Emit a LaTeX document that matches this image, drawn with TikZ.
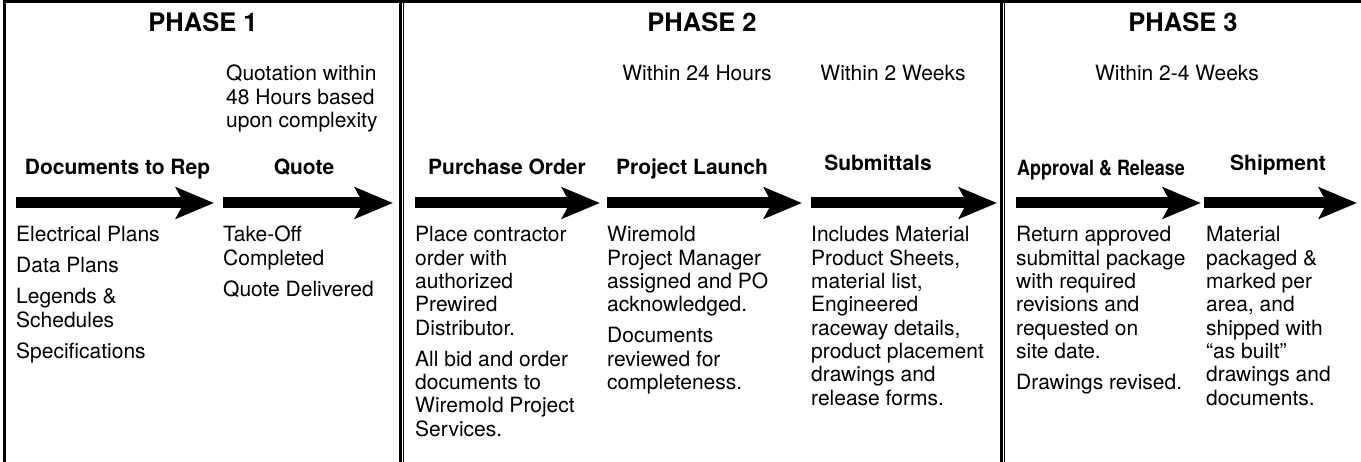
\documentclass[tikz,border=0pt]{standalone}
\usepackage{graphicx}
\usepackage{fontspec}
\setmainfont{TeX Gyre Heros}
\usetikzlibrary{arrows.meta}
\tikzset{
  body/.style={anchor=base west, inner sep=0pt, font=\fontsize{21}{23.3}\selectfont},
  timing/.style={anchor=base, inner sep=0pt, font=\fontsize{21}{23.3}\selectfont},
  steplabel/.style={anchor=base, inner sep=0pt, font=\bfseries\fontsize{21}{23.3}\selectfont},
  phasetitle/.style={anchor=base, inner sep=0pt, font=\bfseries\fontsize{25.5}{28}\selectfont},
  fatarrow/.style={line width=11pt, -{Stealth[length=38pt,width=31pt,inset=8pt]}},
  frameline/.style={line width=3pt},
  divthick/.style={line width=3.2pt},
  divthin/.style={line width=1.1pt},
}
\newcommand{\ml}[1]{\begin{tabular}[t]{@{}l@{}}#1\end{tabular}}
\begin{document}
\begin{tikzpicture}[x=1pt,y=-1pt]
\useasboundingbox[fill=white] (0,0) rectangle (1361,462);
% frame
\draw[frameline] (4,462) -- (4,2) -- (1361,2);
\draw[divthick] (400.5,2) -- (400.5,462);
\draw[divthin] (403.8,2) -- (403.8,462);
\draw[divthick] (1001.5,2) -- (1001.5,462);
\draw[divthin] (1004.8,2) -- (1004.8,462);
% phase titles
\node[phasetitle] (p1) at (203,32) {PHASE 1};
\node[phasetitle] (p2) at (702,32) {PHASE 2};
\node[phasetitle] (p3) at (1183,32) {PHASE 3};
% timing
\node[body] (t1) at (226,81) {\ml{Quotation within\\48 Hours based\\upon complexity}};
\node[timing] (t2) at (697,81) {Within 24 Hours};
\node[timing] (t3) at (893,81) {Within 2 Weeks};
\node[timing] (t4) at (1177,81) {Within 2-4 Weeks};
% step labels
\node[steplabel] (s1) at (117.5,175) {Documents to Rep};
\node[steplabel] (s2) at (304,175) {Quote};
\node[steplabel] (s3) at (507,175) {Purchase Order};
\node[steplabel] (s4) at (692,175) {Project Launch};
\node[steplabel] (s5) at (878,171) {Submittals};
\node[steplabel] (s6) at (1101,176) {\scalebox{0.853}[1]{Approval \& Release}};
\node[steplabel] (s7) at (1278,171) {Shipment};
% arrows
\coordinate (a1s) at (16,203);   \coordinate (a1e) at (214,203);
\coordinate (a2s) at (223,203);  \coordinate (a2e) at (393,203);
\coordinate (a3s) at (415,203);  \coordinate (a3e) at (600,203);
\coordinate (a4s) at (607,203);  \coordinate (a4e) at (802,203);
\coordinate (a5s) at (811,203);  \coordinate (a5e) at (997,203);
\coordinate (a6s) at (1016,203); \coordinate (a6e) at (1201,203);
\coordinate (a7s) at (1204,203); \coordinate (a7e) at (1357,203);
\foreach \i in {1,...,7} { \draw[fatarrow] (a\i s) -- (a\i e); }
% body texts
\node[body] (b1) at (16,242) {\ml{Electrical Plans\\[7.7pt]Data Plans\\[7.7pt]Legends \&\\Schedules\\[7.7pt]Specifications}};
\node[body] (b2) at (223,242) {\ml{Take-Off\\Completed\\[7.7pt]Quote Delivered}};
\node[body] (b3) at (415,242) {\ml{Place contractor\\order with\\authorized\\Prewired\\Distributor.\\[7.7pt]All bid and order\\documents to\\Wiremold Project\\Services.}};
\node[body] (b4) at (607,242) {\ml{Wiremold\\Project Manager\\assigned and PO\\acknowledged.\\[7.7pt]Documents\\reviewed for\\completeness.}};
\node[body] (b5) at (811,242) {\ml{Includes Material\\Product Sheets,\\material list,\\Engineered\\raceway details,\\product placement\\drawings and\\release forms.}};
\node[body] (b6) at (1016,242) {\ml{Return approved\\submittal package\\with required\\revisions and\\requested on\\site date.\\[7.7pt]Drawings revised.}};
\node[body] (b7) at (1206,242) {\ml{Material\\packaged \&\\marked per\\area, and\\shipped with\\“as built”\\drawings and\\documents.}};
\end{tikzpicture}
\end{document}
